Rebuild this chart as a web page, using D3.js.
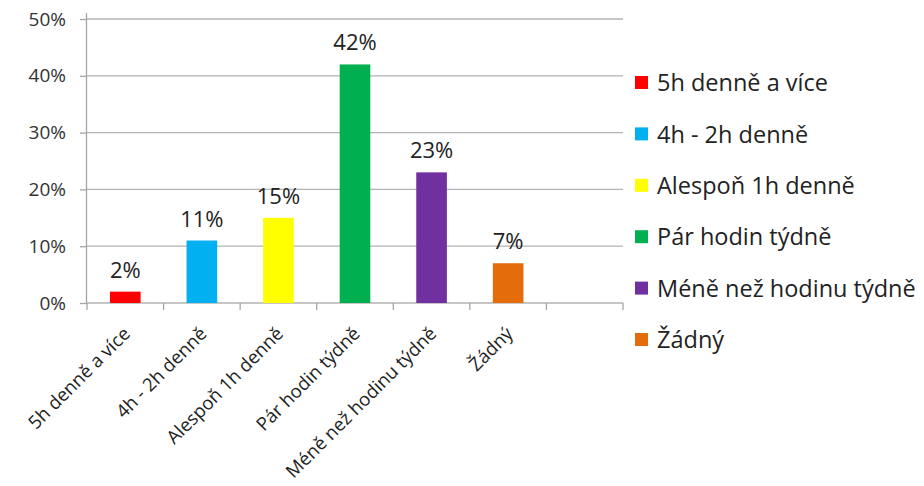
<!DOCTYPE html>
<html><head><meta charset="utf-8">
<script src="https://cdn.jsdelivr.net/npm/d3@7"></script>
<style>
html,body{margin:0;padding:0;background:#fff;}
svg{display:block;font-family:"Open Sans",sans-serif;}
</style></head>
<body><svg id="c" width="924" height="486"></svg>
<script>
const categories = ["5h denně a více","4h - 2h denně","Alespoň 1h denně","Pár hodin týdně","Méně než hodinu týdně","Žádný",""];
const values = [0.02,0.11,0.15,0.42,0.23,0.07,null];
const colors = ["#FF0000","#00B0F0","#FFFF00","#00B050","#7030A0","#E46C0A"];
const yTicks = [0,0.1,0.2,0.3,0.4,0.5];

const svg = d3.select("#c");
const L=87,R=623,T=19,B=303;
const x = d3.scaleBand().domain(d3.range(categories.length)).range([L,R]).paddingInner(0.6).paddingOuter(0.3);
const y = d3.scaleLinear().domain([0,0.5]).range([B,T]);
const fmt = d3.format(".0%");

// gridlines
svg.append("g").selectAll("line").data(yTicks).join("line")
  .attr("x1",L).attr("x2",R).attr("y1",d=>y(d)).attr("y2",d=>y(d))
  .attr("stroke","#B3B3B3").attr("stroke-width",1.3);

// y axis
const ya = svg.append("g").attr("transform",`translate(${L},0)`)
  .call(d3.axisLeft(y).tickValues(yTicks).tickFormat(fmt).tickSize(7).tickPadding(14));
ya.select(".domain").attr("stroke","#A6A6A6").attr("stroke-width",1.3).attr("d",`M-0.5,${T-6}V${B}`);
ya.selectAll(".tick line").attr("stroke","#A6A6A6").attr("stroke-width",1.3);
ya.selectAll(".tick text").attr("font-size",19).attr("fill","#333").attr("font-family","Open Sans");

// x axis boundary ticks
const bounds = d3.range(categories.length+1).map(i=>L+i*x.step());
svg.append("g").selectAll("line").data(bounds).join("line")
  .attr("x1",d=>d).attr("x2",d=>d).attr("y1",B).attr("y2",B+7)
  .attr("stroke","#A6A6A6").attr("stroke-width",1.3);

// bars
const data = values.map((v,i)=>({i,v})).filter(d=>d.v!==null);
svg.append("g").selectAll("rect").data(data).join("rect")
  .attr("x",d=>x(d.i)).attr("width",x.bandwidth())
  .attr("y",d=>y(d.v)).attr("height",d=>B-y(d.v))
  .attr("fill",d=>colors[d.i]);

// value labels
svg.append("g").selectAll("text").data(data).join("text")
  .attr("x",d=>x(d.i)+x.bandwidth()/2).attr("y",d=>y(d.v)-14)
  .attr("text-anchor","middle").attr("font-size",22).attr("fill","#222")
  .text(d=>fmt(d.v));

// x labels
svg.append("g").selectAll("text").data(categories).join("text")
  .attr("transform",(d,i)=>`translate(${x(i)+x.bandwidth()/2+6},${B+32}) rotate(-45)`)
  .attr("text-anchor","end").attr("font-size",18.5).attr("fill","#222")
  .text(d=>d);

// legend
const lg = svg.append("g");
const leg = lg.selectAll("g").data(categories.slice(0,6)).join("g")
  .attr("transform",(d,i)=>`translate(635,${83+i*51.4})`);
leg.append("rect").attr("x",0).attr("y",-7).attr("width",13).attr("height",13).attr("fill",(d,i)=>colors[i]);
leg.append("text").attr("x",22).attr("y",0).attr("dy","0.35em").attr("font-size",23.5).attr("fill","#222").text(d=>d);
</script></body></html>
